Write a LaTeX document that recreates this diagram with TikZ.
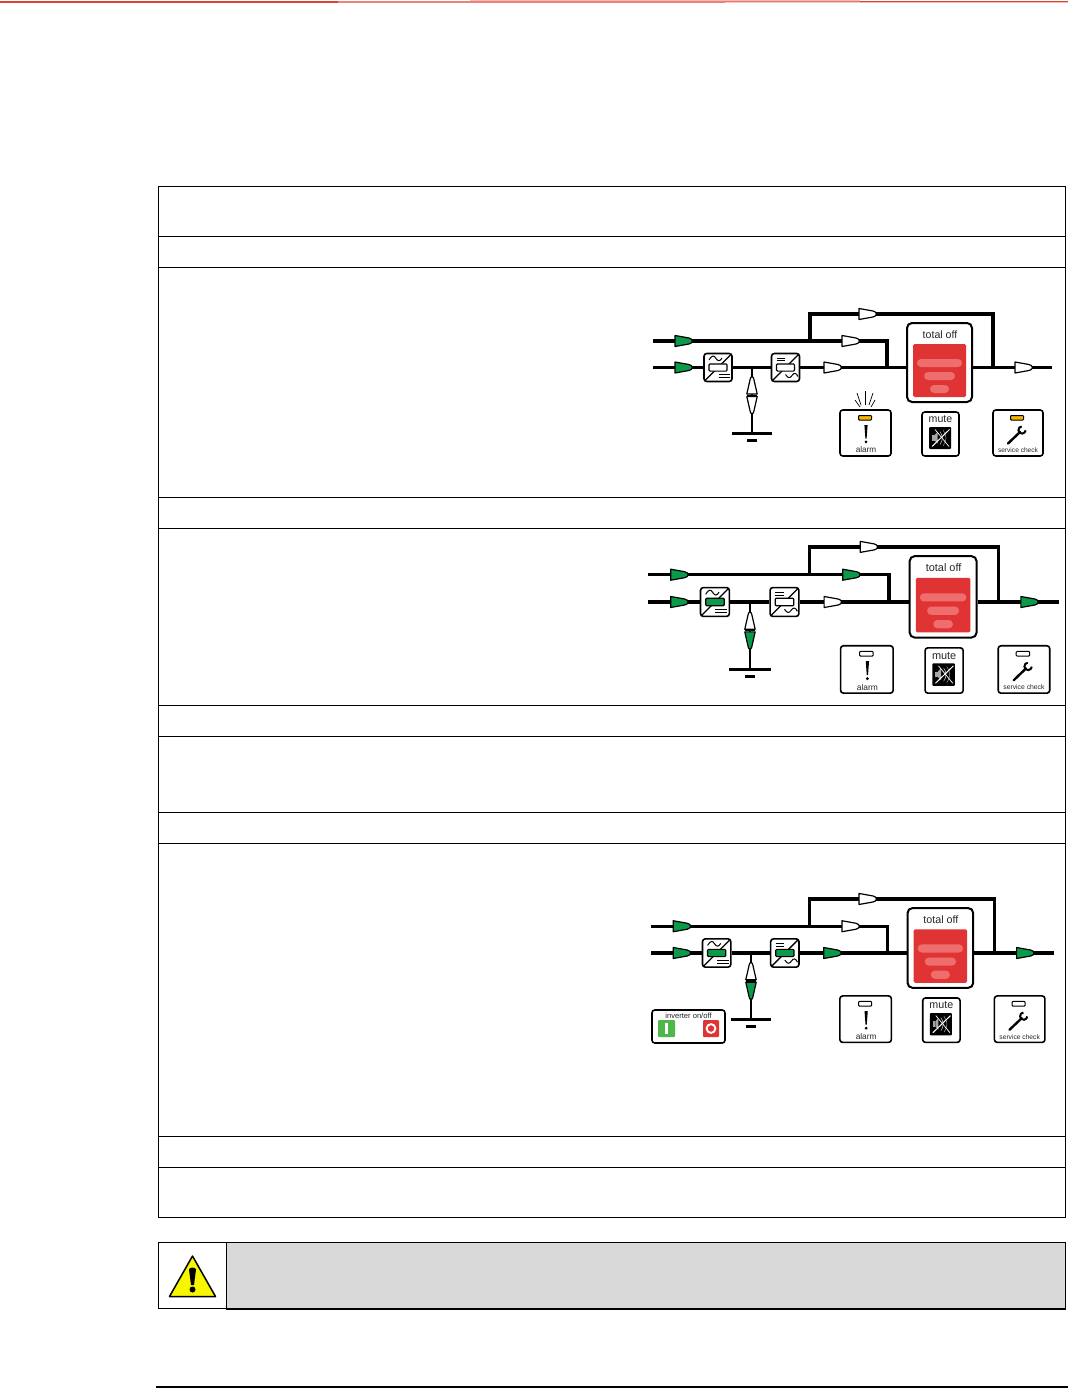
\documentclass[tikz,border=0pt]{standalone}
\usepackage{fontspec}
\setmainfont{Liberation Sans}
\definecolor{upsgreen}{HTML}{0A9A4A}
\definecolor{upsred}{HTML}{E03434}
\definecolor{upspill}{HTML}{EE6E6E}
\definecolor{upsamber}{HTML}{F4B400}
\definecolor{capgray}{HTML}{D9D9D9}
\definecolor{capyellow}{HTML}{F6F600}
\definecolor{bandred}{HTML}{E0402F}
\definecolor{ongreen}{HTML}{4DB848}
\tikzset{
  x=1pt,y=-1pt,
  rule/.style={line width=0.9pt,black},
  wire/.style={line width=3.4pt,black},
  panelbox/.style={draw=black,line width=1.6pt,rounded corners=2.8pt,fill=white,inner sep=0pt,transform shape},
  ltext/.style={inner sep=0pt,transform shape,text=black!85},
  pics/flowarrow/.style={code={
    \draw[black,line width=1.2pt,fill=#1,line join=round]
      (0,-5.5) -- (14,-3) .. controls (18.5,-2.2) and (18.5,2.2) .. (14,3) -- (0,5.5) -- cycle;
  }},
  pics/batarrow/.style={code={
    \draw[black,line width=1.2pt,fill=#1,line join=round]
      (0,-5.2) -- (15,-1.8) .. controls (18,-1.2) and (18,1.2) .. (15,1.8) -- (0,5.2) -- cycle;
  }},
  /ups/.cd,
  inA/.store in=\cInA, inB/.store in=\cInB, top/.store in=\cTop, mid/.store in=\cMid,
  aft/.store in=\cAft, out/.store in=\cOut, up/.store in=\cUp, dn/.store in=\cDn,
  rect/.store in=\cRect, inv/.store in=\cInv, led/.store in=\cLed,
  lower/.store in=\sLower, batlw/.store in=\sBat
}
\newcommand{\upsconverter}[3]{% name, x, fill
  \node[panelbox,minimum width=28pt,minimum height=28pt] (#1) at (#2,0) {};
  \draw[black,line width=1.3pt] ([shift={(-13,13)}]#2,0) -- ([shift={(13,-13)}]#2,0);
  \draw[black,line width=1.2pt,fill=#3,rounded corners=1pt] ([shift={(-9,-3.6)}]#2,0) rectangle ([shift={(9,3.6)}]#2,0);
}
\newcommand{\upspanel}[5]{% prefix, ox, oy, scale, keys
  \begin{scope}[shift={(#2,#3)},scale=#4]
  \tikzset{/ups/.cd,#5}
  \coordinate (#1inA) at (0,-26.5);
  \coordinate (#1inB) at (0,0);
  \coordinate (#1tapA) at (157,-26.5);
  \coordinate (#1topL) at (157,-53.5);
  \coordinate (#1topR) at (340,-53.5);
  \coordinate (#1tapB) at (340,0);
  \coordinate (#1cornerA) at (234,-26.5);
  \coordinate (#1mergeA) at (234,0);
  \coordinate (#1bat) at (99,0);
  \coordinate (#1batE) at (99,65.5);
  \coordinate (#1barL) at (79,65.5);
  \coordinate (#1barR) at (119,65.5);
  \coordinate (#1minL) at (94,72.5);
  \coordinate (#1minR) at (104,72.5);
  \coordinate (#1end) at (399,0);
  \upsconverter{#1rect}{65}{\cRect}
  \upsconverter{#1inv}{132.5}{\cInv}
  \node[panelbox,line width=2pt,minimum width=65pt,minimum height=79pt,rounded corners=5pt] (#1total) at (286.5,-5) {};
  % connectors
  \draw[wire,line join=miter] (#1inA) -- (#1cornerA) -- (#1mergeA);
  \draw[wire,line join=miter] (#1tapA) -- (#1topL) -- (#1topR) -- (#1tapB);
  \draw[line width=\sLower,black] (#1inB) -- (#1rect.west);
  \draw[line width=\sLower,black] (#1rect.east) -- (#1inv.west);
  \draw[line width=\sLower,black] (#1inv.east) -- (#1inv.east -| #1total.west);
  \draw[line width=\sLower,black] (#1inB -| #1total.east) -- (#1end);
  \draw[line width=\sBat,black] (#1bat) -- (#1batE);
  \draw[line width=3pt,black] (#1barL) -- (#1barR);
  \draw[line width=3pt,black] (#1minL) -- (#1minR);
  % converter details
  \draw[black,line width=1pt] (56,-7.5) .. controls (59,-12.5) and (61,-12.5) .. (63,-9) .. controls (65,-6) and (67,-6) .. (69,-9.5);
  \draw[black,line width=1pt] (65.5,7) -- (77,7) (65.5,10) -- (77,10);
  \draw[black,line width=1pt] (123.5,-9.5) -- (132,-9.5) (123.5,-6.8) -- (132,-6.8);
  \draw[black,line width=1pt] (132.5,7) .. controls (135,11) and (137,11) .. (139,8) .. controls (141,5) and (143,5) .. (145,9);
  % flow arrows
  \pic at (22,-26.5) {flowarrow=\cInA};
  \pic at (22,0) {flowarrow=\cInB};
  \pic at (206,-53.5) {flowarrow=\cTop};
  \pic at (189,-26.5) {flowarrow=\cMid};
  \pic at (171,0) {flowarrow=\cAft};
  \pic at (362,0) {flowarrow=\cOut};
  \pic[rotate=90] at (99,26.5) {batarrow=\cUp};
  \pic[rotate=-90] at (99,29) {batarrow=\cDn};
  \draw[black,line width=1.4pt] (94,27.7) -- (104,27.7);
  % total off
  \node[ltext,font=\fontsize{10.6pt}{12pt}\selectfont] (#1totaltxt) at (287,-33) {total off};
  \fill[upsred,rounded corners=1.5pt] (260,-23.5) rectangle (313,29.5);
  \fill[upspill,rounded corners=4pt] (264,-8.5) rectangle (309,-0.5);
  \fill[upspill,rounded corners=4pt] (271,4.5) rectangle (302,12.5);
  \fill[upspill,rounded corners=4pt] (277,17.5) rectangle (296,25.5);
  % status boxes
  \node[panelbox,minimum width=51pt,minimum height=46pt] (#1alarm) at (212.5,65.5) {};
  \node[panelbox,minimum width=37pt,minimum height=44pt] (#1mute) at (287.5,66.5) {};
  \node[panelbox,minimum width=50pt,minimum height=46pt] (#1serv) at (365,65.5) {};
  \draw[black,line width=1pt,fill=\cLed,rounded corners=0.8pt] (205.5,48) rectangle (218.5,52.5);
  \draw[black,line width=1pt,fill=\cLed,rounded corners=0.8pt] (357.5,48) rectangle (370.5,52.5);
  \fill[black] (211.4,57.5) -- (214.6,57.5) -- (213.6,71) -- (212.4,71) -- cycle;
  \fill[black] (213,74.4) circle (1.5);
  \node[ltext,font=\fontsize{8.2pt}{10pt}\selectfont] (#1alarmtxt) at (213,82.5) {alarm};
  \node[ltext,font=\fontsize{10.6pt}{12pt}\selectfont] (#1mutetxt) at (287.5,52) {mute};
  \node[ltext,font=\fontsize{6.6pt}{8pt}\selectfont] (#1servtxt) at (365,82.8) {service check};
  % mute icon
  \fill[black,rounded corners=1pt] (276,59.5) rectangle (298,81.5);
  \fill[white!65!black] (279,67.5) rectangle (281.5,73);
  \fill[white!65!black] (281.5,67.5) -- (284.5,64.5) -- (284.5,76) -- (281.5,73) -- cycle;
  \draw[white!80!black,line width=0.5pt] (287,64) .. controls (290,68) and (290,73) .. (287,77);
  \draw[white!60!black,line width=0.5pt] (290,62.5) .. controls (294,68) and (294,73) .. (290,78.5);
  \draw[white,line width=1pt] (279,79) -- (296.5,62);
  \draw[white,line width=0.7pt] (282,62) -- (296,79);
  % wrench
  \draw[black,line width=2.4pt,line cap=round] (355,76) -- (367,64.5);
  \draw[black,line width=2pt] ([shift={(95:3.6pt)}]369,62.5) arc[start angle=95,end angle=355,radius=3.6pt];
  \end{scope}
}
\begin{document}
\begin{tikzpicture}
\useasboundingbox (0,0) rectangle (1068,1388);
\fill[white] (0,0) rectangle (1068,1388);
% top band
\fill[bandred] (0,1) rectangle (338,3);
\fill[bandred!65!white] (338,1.4) rectangle (725,3);
\fill[bandred!35!white] (470,0.4) rectangle (860,1.4);
\fill[bandred!70!white] (725,1.4) rectangle (860,2.2);
\fill[bandred!30!white] (725,2.2) rectangle (860,3.2);
\fill[bandred] (860,0.8) rectangle (1068,2.3);
\fill[bandred!35!white] (860,2.3) rectangle (1068,3.2);
% table
\foreach \yy/\nm in {186.5/ra,236.5/rb,267.5/rc,497.5/rd,528.5/re,705.5/rf,736.5/rg,812.5/rh,843.5/ri,1136.5/rj,1167.5/rk,1217.5/rl}{
  \coordinate (\nm L) at (158.5,\yy);
  \coordinate (\nm R) at (1065.5,\yy);
  \draw[rule] (\nm L) -- (\nm R);
}
\draw[rule] (raL) -- (rlL) (raR) -- (rlR);
% panels
\upspanel{a}{653}{367.5}{1}{inA=upsgreen,inB=upsgreen,top=white,mid=white,aft=white,out=white,up=white,dn=white,rect=white,inv=white,led=upsamber,lower=2.2pt,batlw=1.8pt}
\foreach \xa/\ya/\xb/\yb in {212/23.5/212/37.5,204/25.5/208/37.5,202/32.5/207/39.5,220/25.5/216/37.5,222/32.5/218/39.5}{
  \draw[black,line width=0.7pt] (\xa+653,\ya+367.5) -- (\xb+653,\yb+367.5);
}
\upspanel{b}{648}{602}{1.03}{inA=upsgreen,inB=upsgreen,top=white,mid=upsgreen,aft=white,out=upsgreen,up=white,dn=upsgreen,rect=upsgreen,inv=white,led=white,lower=3.4pt,batlw=2.4pt}
\upspanel{c}{651}{953}{1.01}{inA=upsgreen,inB=upsgreen,top=white,mid=white,aft=upsgreen,out=upsgreen,up=white,dn=upsgreen,rect=upsgreen,inv=upsgreen,led=white,lower=3.4pt,batlw=2.4pt}
% inverter on/off
\node[panelbox,minimum width=73pt,minimum height=33pt] (invbox) at (688.5,1026.5) {};
\node[ltext,font=\fontsize{7.6pt}{9pt}\selectfont] (invtxt) at (688.5,1015.5) {inverter on/off};
\fill[ongreen,rounded corners=1pt] (658,1020) rectangle (675,1037);
\fill[white] (665.3,1023) rectangle (667.7,1034);
\fill[upsred,rounded corners=1pt] (703,1020) rectangle (719,1037);
\draw[white,line width=1.9pt] (711,1028.5) circle (4.4);
% caution box
\fill[capgray] (226,1242.5) rectangle (1065.5,1308.5);
\coordinate (capTL) at (158.5,1242.5);
\coordinate (capBR) at (1065.5,1308.5);
\draw[rule] (capTL) rectangle (capBR);
\coordinate (capDT) at (226,1242.5);
\coordinate (capDB) at (226,1308.5);
\draw[rule] (capDT) -- (capDB);
\coordinate (capBL2) at (226,1309);
\coordinate (capBR2) at (1065.5,1309);
\draw[black,line width=1.6pt] (capBL2) -- (capBR2);
\draw[black,line width=1.5pt,fill=capyellow,line join=round] (192.5,1256) -- (215.5,1296.5) -- (169.5,1296.5) -- cycle;
\fill[black] (189,1269.5) .. controls (189,1267) and (196,1267) .. (196,1269.5) -- (194,1285) -- (191,1285) -- cycle;
\fill[black] (192.5,1289.5) circle (3);
% footer rule
\coordinate (footL) at (156,1387);
\coordinate (footR) at (1068,1387);
\draw[black,line width=1.1pt] (footL) -- (footR);
\end{tikzpicture}
\end{document}
